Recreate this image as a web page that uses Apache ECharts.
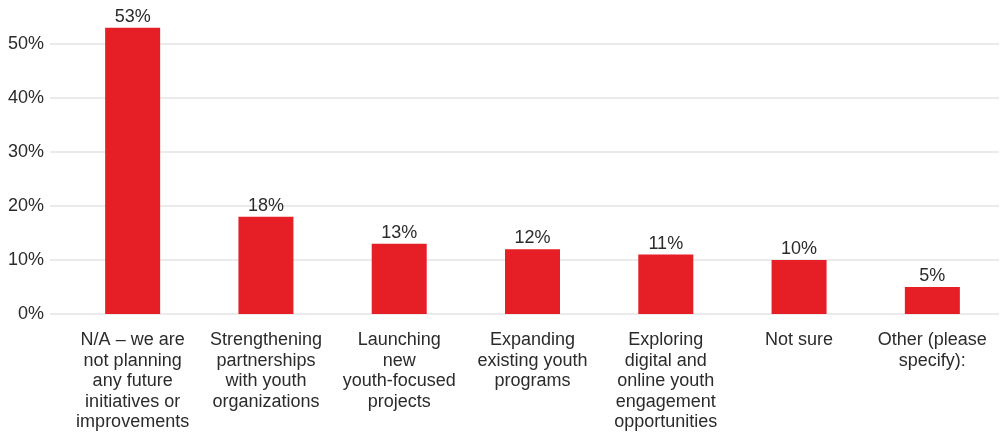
<!DOCTYPE html>
<html>
<head>
<meta charset="utf-8">
<script src="https://cdn.jsdelivr.net/npm/echarts@6/dist/echarts.min.js"></script>
<style>
  html, body { margin: 0; padding: 0; background: #ffffff; }
  #chart { width: 1000px; height: 434px; }
</style>
</head>
<body>
<div id="chart"></div>
<script>
// Future youth initiatives — share of respondents
const categories = [
  'N/A \u2013 we are\nnot planning\nany future\ninitiatives or\nimprovements',
  'Strengthening\npartnerships\nwith youth\norganizations',
  'Launching\nnew\nyouth-focused\nprojects',
  'Expanding\nexisting youth\nprograms',
  'Exploring\ndigital and\nonline youth\nengagement\nopportunities',
  'Not sure',
  'Other (please\nspecify):'
];
const shares = [53, 18, 13, 12, 11, 10, 5];
const yTicks = { min: 0, max: 50, step: 10 };

const textColor = '#2b2b2b';
const font = 'Liberation Sans, Arial, sans-serif';

const chart = echarts.init(document.getElementById('chart'), null, { renderer: 'canvas' });
chart.setOption({
  animation: false,
  backgroundColor: '#ffffff',
  grid: [
    { left: 66, right: 1, top: 44, bottom: 120 },
    { left: 50, right: 1, top: 44, bottom: 120 }
  ],
  xAxis: [
    {
      type: 'category',
      gridIndex: 0,
      data: categories,
      axisLine: { show: false },
      axisTick: { show: false },
      axisLabel: {
        interval: 0,
        color: textColor,
        fontFamily: font,
        fontSize: 18,
        lineHeight: 20.5,
        margin: 16
      }
    },
    { type: 'value', gridIndex: 1, show: false, min: 0, max: 1 }
  ],
  yAxis: [
    {
      type: 'value',
      gridIndex: 0,
      min: yTicks.min, max: yTicks.max, interval: yTicks.step,
      show: false
    },
    {
      type: 'value',
      gridIndex: 1,
      min: yTicks.min, max: yTicks.max, interval: yTicks.step,
      axisLine: { show: false },
      axisTick: { show: false },
      splitLine: { show: true, lineStyle: { color: '#e4e4e4', width: 1.5 } },
      axisLabel: {
        color: textColor,
        fontFamily: font,
        fontSize: 18,
        margin: 6,
        formatter: v => v + '%'
      }
    }
  ],
  series: [{
    type: 'bar',
    xAxisIndex: 0,
    yAxisIndex: 0,
    data: shares,
    barWidth: 55,
    clip: false,
    itemStyle: { color: '#e61e25' },
    label: {
      show: true,
      position: 'top',
      distance: 2,
      color: textColor,
      fontFamily: font,
      fontSize: 18,
      formatter: p => p.value + '%'
    },
    z: 3
  }]
});
</script>
</body>
</html>
